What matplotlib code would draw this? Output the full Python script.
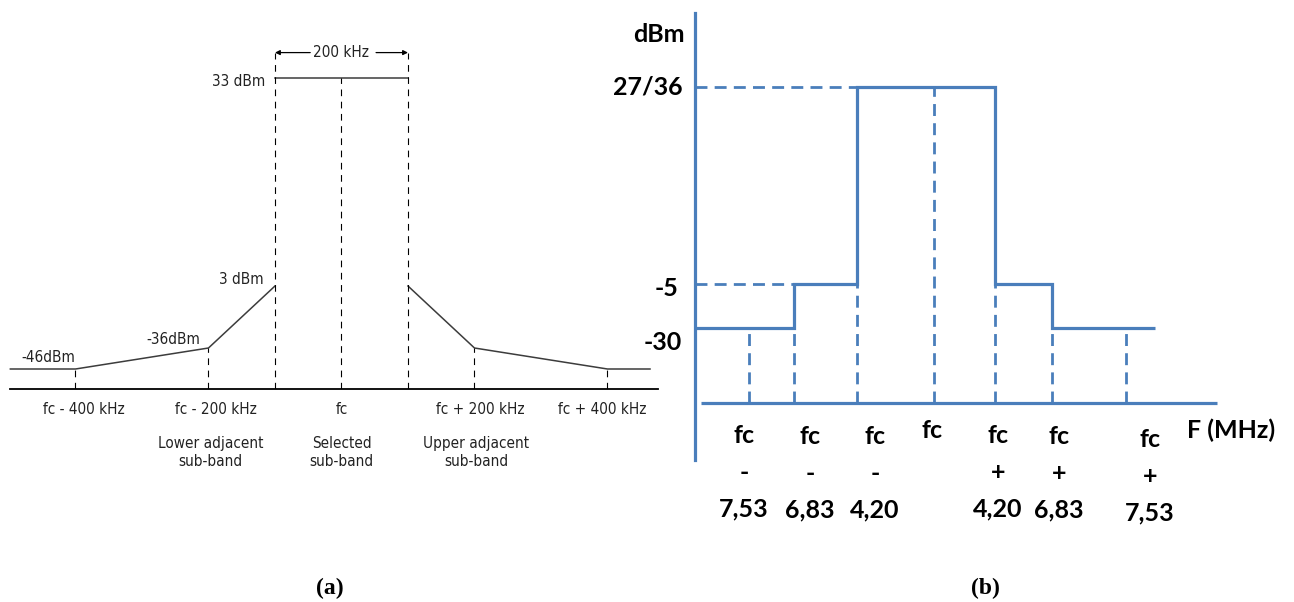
import numpy as np
import matplotlib.pyplot as plt

# ---- panel (a): spectrum mask, offset in kHz, level in dBm
a_left_khz = [-498, -400, -200, -100]
a_left_dbm = [-46, -46, -36, 3]
a_top_khz = [-100, 100]
a_top_dbm = [33, 33]
a_right_khz = [100, 200, 400, 464]
a_right_dbm = [3, -36, -46, -46]

a_guide_khz = [-400, -200, -100, 0, 100, 200, 400]
a_guide_top = [-46, -36, 42, 33, 42, -36, -46]

a_tick_khz = [-400, -200, 0, 200, 400]
a_tick_labels = ['fc - 400 kHz', 'fc - 200 kHz', 'fc', 'fc + 200 kHz', 'fc + 400 kHz']
a_band_khz = [-200, 0, 200]
a_band_labels = ['Lower adjacent\nsub-band', 'Selected\nsub-band', 'Upper adjacent\nsub-band']

a_level_khz = [-400, -200, -100, -100]
a_level_dbm = [-46, -36, 3, 33]
a_level_labels = ['-46dBm', '-36dBm', '3 dBm', '33 dBm']

# ---- panel (b): step mask, offset in MHz
b_edges_mhz = [-10, -6.83, -4.20, 4.20, 6.83, 8.32]
b_levels = [-30, -5, 36, -5, -30]
b_tick_mhz = [-7.53, -6.83, -4.20, 0, 4.20, 6.83, 7.53]
b_tick_labels = ['fc\n-\n7,53', 'fc\n-\n6,83', 'fc\n-\n4,20', 'fc',
                 'fc\n+\n4,20', 'fc\n+\n6,83', 'fc\n+\n7,53']
b_guide_top = [-30, -30, -5, 36, -5, -30, -30]
b_level_vals = [36, -5, -30]
b_level_labels = ['27/36', '-5', '-30']

W, H = 1294, 602
fig = plt.figure(figsize=(W / 100, H / 100), dpi=100)


def px_axes(x0, x1, y_top, y_bot):
    return fig.add_axes([x0 / W, (H - y_bot) / H, (x1 - x0) / W, (y_bot - y_top) / H])


def piecewise(src, dst):
    return (lambda v: np.interp(v, src, dst), lambda v: np.interp(v, dst, src))


narrow = dict(family=['DejaVu Sans'], fontstretch='condensed', fontsize=11, color='#222222')
line_col = '#3c3c3c'

# ================= (a)
axa = px_axes(10, 658, 30, 389)
axa.set_yscale('function', functions=piecewise([-60, -46, -36, 3, 33, 50],
                                                [0, 20, 41, 103, 311, 359]))
axa.set_ylim(-60, 50)
axa.set_xlim(-498.5, 476)
for s in ['top', 'left', 'right']:
    axa.spines[s].set_visible(False)
axa.spines['bottom'].set_linewidth(1.3)
axa.set_xticks([])
axa.set_yticks([])

for xs, ys in [(a_left_khz, a_left_dbm), (a_top_khz, a_top_dbm), (a_right_khz, a_right_dbm)]:
    axa.plot(xs, ys, color=line_col, lw=1.1, clip_on=False)
axa.vlines(a_guide_khz, -60, a_guide_top, colors='black', lw=0.8,
           linestyles=(0, (6, 5)))

for x, y, txt, off in zip(a_level_khz, a_level_dbm, a_level_labels,
                          [(0, 12), (-8, 8), (-11, 7), (-10, -4)]):
    axa.annotate(txt, (x, y), xytext=off, textcoords='offset pixels',
                 ha='right', va='center', **narrow)

for x, txt, dx in zip(a_tick_khz, a_tick_labels, [8, 7, 0, 6, -5]):
    axa.annotate(txt, (x, -60), xytext=(dx, -21), textcoords='offset pixels',
                 ha='center', va='center', **narrow)
for x, txt, dx in zip(a_band_khz, a_band_labels, [2, 0, 2]):
    axa.annotate(txt, (x, -60), xytext=(dx, -47), textcoords='offset pixels',
                 ha='center', va='top', linespacing=1.25, **narrow)

# 200 kHz bandwidth arrows
axa.text(0, 42, '200 kHz', ha='center', va='center', **narrow)
for x0, x1 in [(-47, -100), (52, 100)]:
    axa.annotate('', xy=(x1, 42), xytext=(x0, 42),
                 arrowprops=dict(arrowstyle='-|>', color='black', lw=0.9,
                                 mutation_scale=7, shrinkA=0, shrinkB=0))

# ================= (b)
blue = '#4a7ebb'
bold = dict(family=['Lato', 'DejaVu Sans'], fontweight='bold', fontsize=18)
axb = px_axes(695, 1217, 13, 460)
axb.set_xscale('function', functions=piecewise(
    [-10, -7.53, -6.83, -4.20, 0, 4.20, 6.83, 7.53, 10],
    [0, 54, 99, 162, 239, 300, 357, 431, 522]))
axb.set_yscale('function', functions=piecewise([-60, -45, -30, -5, 36, 60],
                                                [0, 57, 132, 176, 373, 447]))
axb.set_xlim(-10, 10)
axb.set_ylim(-60, 60)
for s in ['top', 'bottom', 'right']:
    axb.spines[s].set_visible(False)
axb.spines['left'].set_color(blue)
axb.spines['left'].set_linewidth(2.3)
axb.set_xticks([])
axb.set_yticks([])

axb.stairs(b_levels, b_edges_mhz, baseline=None, color=blue, lw=2.3, clip_on=False)
axb.plot([-9.73, 10], [-45, -45], color=blue, lw=2.3, solid_capstyle='butt', clip_on=False)
dash_b = (0, (4.3, 2.6))
axb.vlines(b_tick_mhz, -45, b_guide_top, colors=blue, lw=2.0, linestyles=dash_b)
axb.hlines([36, -5], -10, [-4.20, -6.83], colors=blue, lw=2.0, linestyles=dash_b)

for v, txt, off in zip(b_level_vals, b_level_labels, [(-12, 0), (-17, -5), (-13, -14)]):
    axb.annotate(txt, (-10, v), xytext=off, textcoords='offset pixels',
                 ha='right', va='center', **bold)
axb.set_ylabel('dBm', rotation=0, ha='right', va='center', **bold)
axb.yaxis.set_label_coords(-10 / 522, (460 - 35) / 447)

for x, txt, dx, dy in zip(b_tick_mhz, b_tick_labels,
                          [-5, 16, 18, -2, 3, 7, 24],
                          [-21, -22, -22, -16, -21, -22, -25]):
    axb.annotate(txt, (x, -45), xytext=(dx, dy), textcoords='offset pixels',
                 ha='center', va='top', linespacing=1.72, **bold)
axb.annotate('F (MHz)', (10, -45), xytext=(-30, -27), textcoords='offset pixels',
             ha='left', va='center', **bold)

# panel captions
serif = dict(family=['Liberation Serif', 'DejaVu Serif'], fontweight='bold', fontsize=17)
fig.text(330 / W, 1 - 588 / H, '(a)', ha='center', va='center', **serif)
fig.text(985 / W, 1 - 588 / H, '(b)', ha='center', va='center', **serif)

fig.savefig('out.png', dpi=100, facecolor='white')
